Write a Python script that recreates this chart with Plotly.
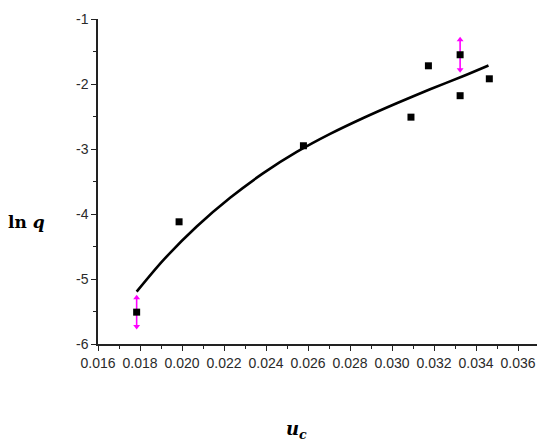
import plotly.graph_objects as go

# measured data points
uc = [0.01784, 0.01986, 0.02578, 0.0309, 0.03173, 0.03324, 0.03324, 0.03463]
lnq = [-5.51, -4.12, -2.95, -2.51, -1.72, -1.55, -2.18, -1.92]

# points with error bars
err_uc = [0.01784, 0.03324]
err_lnq = [-5.51, -1.55]
err_val = [0.22, 0.23]

# fitted curve
fit_uc = [0.01784, 0.01911, 0.0207, 0.02229, 0.02387, 0.02546, 0.02705,
          0.02863, 0.03022, 0.03181, 0.0334, 0.03459]
fit_lnq = [-5.195, -4.71, -4.193, -3.751, -3.372, -3.046, -2.768,
           -2.523, -2.296, -2.081, -1.877, -1.715]

x_ticks = [0.016, 0.018, 0.020, 0.022, 0.024, 0.026, 0.028, 0.030, 0.032, 0.034, 0.036]
x_tick_text = ["0.016", "0.018", "0.020", "0.022", "0.024", "0.026", "0.028",
               "0.030", "0.032", "0.034", "0.036"]
y_ticks = [-6, -5, -4, -3, -2, -1]
y_tick_text = ["-6", "-5", "-4", "-3", "-2", "-1"]

MAG = "#ff00ff"

fig = go.Figure()

fig.add_trace(go.Scatter(
    x=fit_uc, y=fit_lnq, mode="lines",
    line=dict(color="black", width=2.6, shape="spline", smoothing=0.8),
    showlegend=False, hoverinfo="skip"))

fig.add_trace(go.Scatter(
    x=err_uc, y=err_lnq, mode="markers",
    marker=dict(size=0.1, color=MAG),
    error_y=dict(type="data", array=err_val, color=MAG, thickness=1.6, width=0),
    showlegend=False))

fig.add_trace(go.Scatter(
    x=uc, y=lnq, mode="markers",
    marker=dict(symbol="square", size=7, color="black"),
    showlegend=False))

fig.add_trace(go.Scatter(
    x=err_uc, y=[v + e for v, e in zip(err_lnq, err_val)], mode="markers",
    marker=dict(symbol="triangle-up", size=6, color=MAG),
    showlegend=False, hoverinfo="skip"))
fig.add_trace(go.Scatter(
    x=err_uc, y=[v - e for v, e in zip(err_lnq, err_val)], mode="markers",
    marker=dict(symbol="triangle-down", size=6, color=MAG),
    showlegend=False, hoverinfo="skip"))

axis_font = dict(family="Liberation Sans, Arial, sans-serif", size=14, color="#2a2a2a")

fig.update_layout(
    width=537, height=443,
    margin=dict(l=98, r=0, t=19, b=99),
    paper_bgcolor="white", plot_bgcolor="white",
    xaxis=dict(
        range=[0.016, 0.0369], tickvals=x_ticks, ticktext=x_tick_text,
        showgrid=False, zeroline=False, showline=True, linecolor="#222", linewidth=1.5,
        ticks="outside", ticklen=5, tickwidth=1.2, tickcolor="#222",
        tickfont=axis_font,
        minor=dict(dtick=0.001, tick0=0.016, ticks="outside", ticklen=3, tickwidth=1.2, tickcolor="#222"),
    ),
    yaxis=dict(
        range=[-6, -1], tickvals=y_ticks, ticktext=y_tick_text,
        showgrid=False, zeroline=False, showline=True, linecolor="#222", linewidth=1.5,
        ticks="outside", ticklen=5, tickwidth=1.2, tickcolor="#222",
        tickfont=axis_font,
        minor=dict(dtick=0.5, tick0=-6, ticks="outside", ticklen=3, tickwidth=1.2, tickcolor="#222"),
    ),
    annotations=[
        dict(text="<b>ln <i>q</i></b>", xref="paper", yref="paper", x=-0.162, y=0.375,
             xanchor="center", yanchor="middle",
             showarrow=False, font=dict(family="DejaVu Serif", size=17, color="black")),
        dict(text="<b><i>u</i><sub><i>c</i></sub></b>", xref="paper", yref="paper", x=0.453, y=-0.265,
             xanchor="center", yanchor="middle",
             showarrow=False, font=dict(family="DejaVu Serif", size=18, color="black")),
    ],
)

fig.write_html("out.html")
